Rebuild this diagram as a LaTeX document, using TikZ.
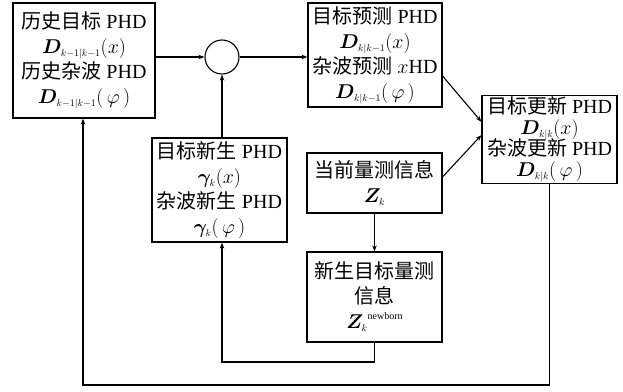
\RequirePackage{fix-cm}
\documentclass[tikz,border=0pt]{standalone}
\usepackage{amsmath,bm}
\usepackage{fontspec}
\setmainfont{Liberation Serif}
\newfontfamily\cjk{Noto Sans CJK SC}
\usetikzlibrary{arrows.meta,calc}
\newcommand{\zh}[1]{{\cjk #1}}
\newcommand{\sst}[1]{{\scriptscriptstyle #1}}
\begin{document}
\begin{tikzpicture}[x=1pt,y=-1pt,
  blk/.style={draw,line width=1.2pt,align=center,inner sep=1pt,
    font=\fontsize{20}{25}\selectfont},
  conn/.style={line width=1.1pt,-{Stealth[length=6pt,width=4.5pt]}},
  plain/.style={line width=1.1pt}]
\useasboundingbox (0,0) rectangle (623,391);
\node[blk,minimum width=142pt,minimum height=115pt] (A) at (84,60.5)
  {\zh{历史目标} PHD\\ $\bm{D}_{\sst{k-1|k-1}}(x)$\\ \zh{历史杂波} PHD\\ $\bm{D}_{\sst{k-1|k-1}}(\,\varphi\,)$};
\node[draw,circle,line width=1.1pt,minimum size=34pt,inner sep=0pt] (c) at (222,57) {};
\node[blk,minimum width=134pt,minimum height=104pt] (B) at (375,55)
  {\zh{目标预测} PHD\\ $\bm{D}_{\sst{k|k-1}}(x)$\\ \zh{杂波预测} $x$HD\\ $\bm{D}_{\sst{k|k-1}}(\,\varphi\,)$};
\node[blk,minimum width=135pt,minimum height=85pt] (C) at (549.5,139.5)
  {\zh{目标更新} PHD\\[-4pt] $\bm{D}_{\sst{k|k}}(x)$\\[-4pt] \zh{杂波更新} PHD\\[-4pt] $\bm{D}_{\sst{k|k}}(\,\varphi\,)$};
\node[blk,minimum width=135pt,minimum height=104pt] (D) at (219.5,190)
  {\zh{目标新生} PHD\\ $\bm{\gamma}_{\sst{k}}(x)$\\ \zh{杂波新生} PHD\\ $\bm{\gamma}_{\sst{k}}(\,\varphi\,)$};
\node[blk,minimum width=135pt,minimum height=60pt] (E) at (374.5,183)
  {\zh{当前量测信息}\\ $\bm{Z}_{\sst{k}}$};
\node[blk,minimum width=135pt,minimum height=90pt] (F) at (374.5,297)
  {\zh{新生目标量测}\\ \zh{信息}\\ $\bm{Z}_{\sst{k}}$\raisebox{9pt}{\fontsize{10}{10}\selectfont newborn}};
\coordinate (fl) at (222,362);
\coordinate (bl) at (83,385);
\draw[conn] (c.west -| A.east) -- (c.west);
\draw[conn] (c.east) -- (c.east -| B.west);
\draw[conn] (D.north -| c) -- (c.south);
\draw[conn] ($(B.north east)!0.7!(B.south east)$) -- ($(C.north west)!0.3!(C.south west)$);
\draw[conn] ($(E.north east)!0.4!(E.south east)$) -- ($(C.north west)!0.45!(C.south west)$);
\draw[conn] (E.south) -- (F.north);
\draw[conn] (F.south) |- (fl) -- (D.south -| fl);
\draw[conn] (C.south) |- (bl) -- (A.south -| bl);
\end{tikzpicture}
\end{document}
